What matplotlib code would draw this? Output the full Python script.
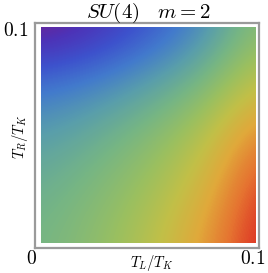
import numpy as np
import matplotlib
matplotlib.use("Agg")
import matplotlib.pyplot as plt
from matplotlib.colors import LinearSegmentedColormap
from matplotlib.patches import Rectangle

plt.rcParams['mathtext.fontset'] = 'cm'

# grid coordinates (T/T_K)
tl_values = [0.0, 0.025, 0.05, 0.075, 0.1]
tr_values = [0.0, 0.025, 0.05, 0.075, 0.1]
# field values, rows = T_R from 0 (bottom) to 0.1 (top)
field = [
    [0.50, 0.57, 0.67, 0.82, 1.00],
    [0.47, 0.53, 0.62, 0.75, 0.97],
    [0.40, 0.46, 0.54, 0.66, 0.88],
    [0.27, 0.32, 0.40, 0.50, 0.70],
    [0.00, 0.08, 0.20, 0.33, 0.55],
]
x_ticks = [0, 0.1]
x_tick_labels = ["0", "0.1"]
title = r"$SU(4)\quad m=2$"

rainbow = LinearSegmentedColormap.from_list("mma_rainbow", [
    (0.0, (0.471, 0.109, 0.527)),
    (0.1, (0.30, 0.20, 0.72)),
    (0.2, (0.24, 0.32, 0.80)),
    (0.3, (0.26, 0.48, 0.80)),
    (0.4, (0.35, 0.62, 0.67)),
    (0.5, (0.46, 0.71, 0.52)),
    (0.6, (0.60, 0.75, 0.38)),
    (0.7, (0.76, 0.75, 0.28)),
    (0.8, (0.88, 0.66, 0.23)),
    (0.9, (0.90, 0.45, 0.19)),
    (1.0, (0.857, 0.131, 0.132)),
])

fig = plt.figure(figsize=(2.68, 2.73), dpi=100)
ax = fig.add_axes([35/268, 25/273, 224/268, 225/273])

dx = (tl_values[1] - tl_values[0]) / 2
dy = (tr_values[1] - tr_values[0]) / 2
im = ax.imshow(np.array(field), origin='lower', cmap=rainbow, vmin=0, vmax=1,
               extent=[tl_values[0] - dx, tl_values[-1] + dx, tr_values[0] - dy, tr_values[-1] + dy],
               interpolation='bicubic', aspect='auto')
clip = Rectangle((tl_values[0], tr_values[0]), tl_values[-1] - tl_values[0], tr_values[-1] - tr_values[0],
                 transform=ax.transData, facecolor='none', edgecolor='none')
im.set_clip_path(clip)

ax.set_xlim(-0.0026, 0.1016)
ax.set_ylim(-0.0022, 0.1020)
for sp in ax.spines.values():
    sp.set_color('#9a9a9a')
    sp.set_linewidth(1.6)
ax.set_xticks([])
ax.set_yticks([])

# tick labels
fig.text(31/268, 1 - 259/273, "$" + x_tick_labels[0] + "$", ha='center', va='center', fontsize=14)
fig.text(253/268, 1 - 259/273, "$" + x_tick_labels[1] + "$", ha='center', va='center', fontsize=14)
fig.text(28/268, 1 - 31/273, "$" + x_tick_labels[1] + "$", ha='right', va='center', fontsize=14)

fig.text(152/268, 1 - 263/273, r"$T_L/T_K$", ha='center', va='center', fontsize=10.5)
fig.text(20/268, 1 - 137/273, r"$T_R/T_K$", ha='center', va='center', fontsize=10.5, rotation=90)
fig.text(149/268, 1 - 12.5/273, title, ha='center', va='center', fontsize=15)

fig.savefig("out.png", dpi=100)
